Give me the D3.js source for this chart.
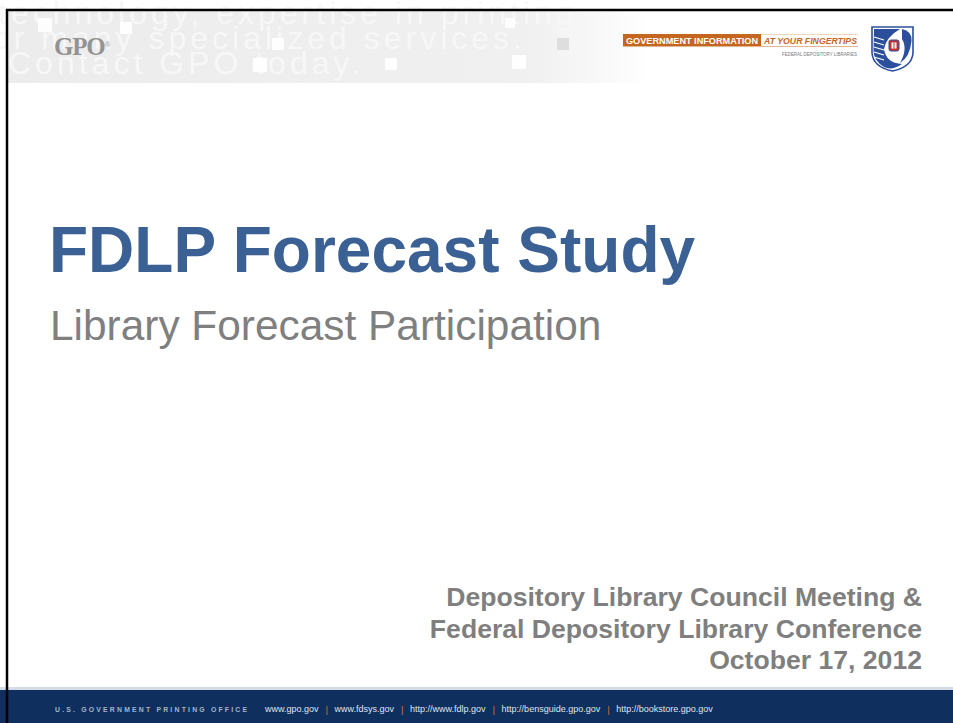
<!DOCTYPE html>
<html>
<head>
<meta charset="utf-8">
<script src="https://cdn.jsdelivr.net/npm/d3@7"></script>
<style>
  body { margin: 0; background: #fff; }
  svg { display: block; }
</style>
</head>
<body>
<div id="slide"></div>
<script>
// slide content
var watermarkLines = ["technology, expertise in printing", "or many specialized services.", "Contact GPO today."];
var titleText = "FDLP Forecast Study";
var subtitleText = "Library Forecast Participation";
var infoLines = ["Depository Library Council Meeting &", "Federal Depository Library Conference", "October 17, 2012"];
var bannerLeft = "GOVERNMENT INFORMATION";
var bannerRight = "AT YOUR FINGERTIPS";
var bannerSub = "FEDERAL DEPOSITORY LIBRARIES";
var footerOffice = "U.S. GOVERNMENT PRINTING OFFICE";
var footerLinks = ["www.gpo.gov", "www.fdsys.gov", "http://www.fdlp.gov", "http://bensguide.gpo.gov", "http://bookstore.gpo.gov"];

var W = 953, H = 723;

var svg = d3.select("#slide").append("svg")
    .attr("width", W)
    .attr("height", H);

var defs = svg.append("defs");
var grad = defs.append("linearGradient").attr("id", "hdr")
    .attr("x1", "0%").attr("x2", "100%");
grad.append("stop").attr("offset", "0%").attr("stop-color", "#ececec");
grad.append("stop").attr("offset", "55%").attr("stop-color", "#f0f0f0");
grad.append("stop").attr("offset", "68%").attr("stop-color", "#ffffff");

// header band with faded text
svg.append("rect")
    .attr("x", 8).attr("y", 11)
    .attr("width", 945).attr("height", 72)
    .attr("fill", "url(#hdr)");

var wmY = d3.scaleLinear().domain([0, 2]).range([24, 74]);
svg.append("g").selectAll("text")
  .data(watermarkLines)
  .join("text")
    .attr("x", function(d, i) { return i == 0 ? -2 : i == 1 ? -8 : 8; })
    .attr("y", function(d, i) { return wmY(i); })
    .attr("font-family", "Liberation Sans, Arial, sans-serif")
    .attr("font-size", 32)
    .attr("letter-spacing", 4)
    .attr("fill", "#f7f7f7")
    .text(function(d) { return d; });

// squares in header
var squares = [[38, 18, 14, "#fff"], [120, 22, 12, "#fff"], [272, 38, 12, "#fff"], [253, 58, 14, "#fff"],
               [385, 58, 12, "#fff"], [512, 55, 14, "#fff"], [557, 38, 12, "#dcdcdc"], [505, 18, 10, "#fff"]];
svg.append("g").selectAll("rect")
  .data(squares)
  .join("rect")
    .attr("x", function(d) { return d[0]; })
    .attr("y", function(d) { return d[1]; })
    .attr("width", function(d) { return d[2]; })
    .attr("height", function(d) { return d[2]; })
    .attr("fill", function(d) { return d[3]; })
    .attr("opacity", 0.9);

// GPO logo
svg.append("text")
    .attr("x", 54).attr("y", 55)
    .attr("font-family", "Liberation Serif, Times New Roman, serif")
    .attr("font-weight", "bold")
    .attr("font-size", 25)
    .attr("letter-spacing", -1.2)
    .attr("fill", "#939393")
    .text("GPO");
svg.append("text")
    .attr("x", 105).attr("y", 47)
    .attr("font-family", "Liberation Sans, Arial, sans-serif")
    .attr("font-size", 7)
    .attr("fill", "#9a9a9a")
    .text("\u00ae");

// orange banner
svg.append("rect")
    .attr("x", 623).attr("y", 34)
    .attr("width", 138).attr("height", 12)
    .attr("fill", "#c4661d");
svg.append("line")
    .attr("x1", 623).attr("x2", 858)
    .attr("y1", 46.5).attr("y2", 46.5)
    .attr("stroke", "#d9a37a").attr("stroke-width", 0.8);
svg.append("line")
    .attr("x1", 761).attr("x2", 858)
    .attr("y1", 34.5).attr("y2", 34.5)
    .attr("stroke", "#e2b996").attr("stroke-width", 0.6);
svg.append("text")
    .attr("x", 626).attr("y", 43.5)
    .attr("textLength", 132)
    .attr("lengthAdjust", "spacingAndGlyphs")
    .attr("font-family", "Liberation Sans, Arial, sans-serif")
    .attr("font-weight", "bold")
    .attr("font-size", 9)
    .attr("fill", "#fff")
    .text(bannerLeft);
svg.append("text")
    .attr("x", 764).attr("y", 43.5)
    .attr("textLength", 93)
    .attr("lengthAdjust", "spacingAndGlyphs")
    .attr("font-family", "Liberation Sans, Arial, sans-serif")
    .attr("font-weight", "bold")
    .attr("font-style", "italic")
    .attr("font-size", 8.6)
    .attr("fill", "#c4661d")
    .text(bannerRight);
svg.append("text")
    .attr("x", 782).attr("y", 55.5)
    .attr("textLength", 75)
    .attr("lengthAdjust", "spacingAndGlyphs")
    .attr("font-family", "Liberation Sans, Arial, sans-serif")
    .attr("font-size", 5)
    .attr("fill", "#777")
    .text(bannerSub);

// FDLP emblem
var emb = svg.append("g").attr("transform", "translate(872,27)");
var shield = d3.path();
shield.moveTo(0, 0);
shield.lineTo(41, 0);
shield.lineTo(41, 26);
shield.quadraticCurveTo(40, 40, 20.5, 44);
shield.quadraticCurveTo(1, 40, 0, 26);
shield.closePath();
emb.append("path").attr("d", shield.toString())
    .attr("fill", "#fff").attr("stroke", "#2b4f9c").attr("stroke-width", 1.6);
var body = d3.path();
body.moveTo(2, 2);
body.lineTo(28, 2);
body.quadraticCurveTo(14, 10, 12, 22);
body.quadraticCurveTo(14, 36, 30, 37);
body.quadraticCurveTo(20, 44, 12, 40);
body.quadraticCurveTo(2, 34, 1.5, 24);
body.closePath();
emb.append("path").attr("d", body.toString()).attr("fill", "#2b4f9c");
var head = d3.path();
head.moveTo(30, 2);
head.quadraticCurveTo(40, 4, 39.5, 14);
head.quadraticCurveTo(38, 30, 28, 36);
head.quadraticCurveTo(36, 22, 30, 12);
head.closePath();
emb.append("path").attr("d", head.toString()).attr("fill", "#2b4f9c");
emb.append("g").selectAll("line")
  .data([10, 15, 20, 25, 30])
  .join("line")
    .attr("x1", 2).attr("x2", 12)
    .attr("y1", function(d) { return d; })
    .attr("y2", function(d) { return d + 3; })
    .attr("stroke", "#fff").attr("stroke-width", 1.2);
emb.append("rect")
    .attr("x", 17).attr("y", 13).attr("width", 10).attr("height", 11).attr("rx", 2)
    .attr("fill", "#c9302c").attr("stroke", "#2b4f9c").attr("stroke-width", 1);
emb.append("rect")
    .attr("x", 19.5).attr("y", 15.5).attr("width", 5).attr("height", 6)
    .attr("fill", "#fff");
emb.append("line")
    .attr("x1", 22).attr("x2", 22).attr("y1", 15.5).attr("y2", 21.5)
    .attr("stroke", "#c9302c").attr("stroke-width", 1);

// title and subtitle
svg.append("text")
    .attr("x", 49).attr("y", 272)
    .attr("font-family", "Liberation Sans, Arial, sans-serif")
    .attr("font-weight", "bold")
    .attr("font-size", 64)
    .attr("fill", "#3a6094")
    .text(titleText);
svg.append("text")
    .attr("x", 50).attr("y", 340)
    .attr("font-family", "Liberation Sans, Arial, sans-serif")
    .attr("font-size", 42.4)
    .attr("fill", "#7f7f7f")
    .text(subtitleText);

// meeting info
var infoY = d3.scalePoint().domain(d3.range(infoLines.length)).range([606, 669]);
svg.append("g").selectAll("text")
  .data(infoLines)
  .join("text")
    .attr("x", 922)
    .attr("y", function(d, i) { return infoY(i); })
    .attr("text-anchor", "end")
    .attr("font-family", "Liberation Sans, Arial, sans-serif")
    .attr("font-weight", "bold")
    .attr("font-size", 26.6)
    .attr("fill", "#7f7f7f")
    .text(function(d) { return d; });

// footer
svg.append("rect")
    .attr("x", 0).attr("y", 687)
    .attr("width", W).attr("height", 3)
    .attr("fill", "#d5dbe4");
svg.append("rect")
    .attr("x", 0).attr("y", 690)
    .attr("width", W).attr("height", H - 690)
    .attr("fill", "#0f2f5f");
svg.append("text")
    .attr("x", 55).attr("y", 712)
    .attr("textLength", 192)
    .attr("font-family", "Liberation Sans, Arial, sans-serif")
    .attr("font-weight", "bold")
    .attr("font-size", 6.8)
    .attr("fill", "#a9b5c8")
    .text(footerOffice);

var fx = 265;
var links = svg.append("g");
footerLinks.forEach(function(d, i) {
  if (i > 0) {
    links.append("text")
        .attr("x", fx).attr("y", 712.5)
        .attr("font-family", "Liberation Sans, Arial, sans-serif")
        .attr("font-size", 9.5)
        .attr("fill", "#d0742c")
        .text("|");
    fx += 9;
  }
  var t = links.append("text")
      .attr("x", fx).attr("y", 712)
      .attr("font-family", "Liberation Sans, Arial, sans-serif")
      .attr("font-size", 9)
      .attr("fill", "#dfe5ee")
      .text(d);
  fx += t.node().getComputedTextLength() + 7;
});

// slide border
svg.append("line")
    .attr("x1", 6).attr("x2", W)
    .attr("y1", 10).attr("y2", 10)
    .attr("stroke", "#000").attr("stroke-width", 2.5);
svg.append("line")
    .attr("x1", 7).attr("x2", 7)
    .attr("y1", 9).attr("y2", H)
    .attr("stroke", "#000").attr("stroke-width", 2.5);
</script>
</body>
</html>
